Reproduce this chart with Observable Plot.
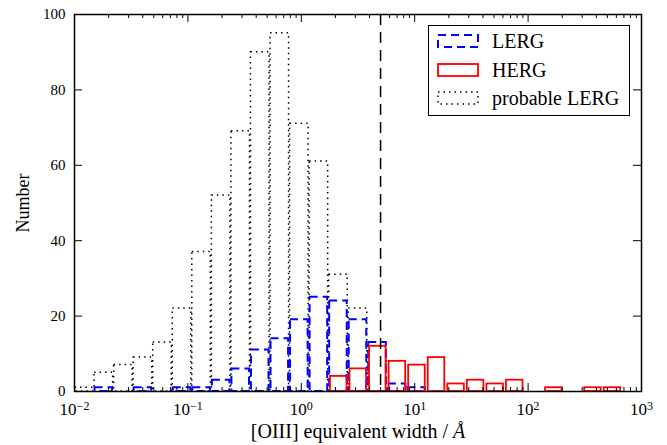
<!DOCTYPE html>
<html>
<head>
<meta charset="utf-8">
<script src="https://cdn.jsdelivr.net/npm/d3@7"></script>
<script src="https://cdn.jsdelivr.net/npm/@observablehq/plot@0.6"></script>
<style>
  html, body { margin: 0; padding: 0; background: #fff; }
  #wrap { position: relative; width: 667px; height: 445px; font-family: "Liberation Serif", "Times New Roman", serif; }
  #chart svg, #chart svg text { font-family: "Liberation Serif", "Times New Roman", serif !important; }
  #legend { position: absolute; left: 428px; top: 25px; width: 200px; height: 89px; border: 1.5px solid #000; background: #fff; }
  .row { position: absolute; left: 0; height: 20px; display: flex; align-items: center; }
  .row svg { margin-left: 8px; }
  .row span { margin-left: 13px; font-size: 20px; color: #000; line-height: 20px; font-family: "Liberation Serif", serif; }
</style>
</head>
<body>
<div id="wrap">
  <div id="chart"></div>
  <div id="legend"></div>
</div>
<script>
// Histogram bins: 29 bins evenly spaced in log10 from -2 to 3
const logMin = -2, logMax = 3, nBins = 29;
// Counts per bin
const probableLERG = [1, 5, 7, 9, 13, 22, 37, 52, 69, 90, 95, 71, 61, 31, 22, 12, 0, 0, 0, 0, 0, 0, 0, 0, 0, 0, 0, 0, 0];
const LERG         = [0, 1, 0, 1, 0, 1, 1, 3, 6, 11, 14, 19, 25, 24, 19, 13, 2, 1, 0, 0, 0, 0, 0, 0, 0, 0, 0, 0, 0];
const HERG         = [0, 0, 0, 0, 0, 0, 0, 0, 0, 0, 0, 0, 0, 4, 6, 12, 8, 7, 9, 2, 3, 2, 3, 0, 1, 0, 1, 1, 0];
const seriesNames = ["LERG", "HERG", "probable LERG"];
const dividerWidth = 5; // vertical dashed line at 5 Å
const xMajorTicks = [0.01, 0.1, 1, 10, 100, 1000];
const xTickBase = "10";
const xTickExponents = ["\u22122", "\u22121", "0", "1", "2", "3"];
const minorMultipliers = [2, 3, 4, 5, 6, 7, 8, 9];
const yTicks = [0, 20, 40, 60, 80, 100];
const xLabel = "[OIII] equivalent width / Å";
const yLabel = "Number";

const W = 667, H = 445, mL = 74, mR = 26, mT = 14, mB = 54;
const innerW = W - mL - mR, innerH = H - mT - mB;
const serif = "'Liberation Serif', 'Times New Roman', serif";

const edges = d3.range(nBins + 1).map(i => Math.pow(10, logMin + i * (logMax - logMin) / nBins));
const toBins = counts => counts.map((n, i) => ({x1: edges[i], x2: edges[i + 1], n})).filter(d => d.n > 0);
const minorTicks = xMajorTicks.slice(0, -1).flatMap(t => minorMultipliers.map(m => t * m));

const chart = Plot.plot({
  width: W, height: H,
  marginLeft: mL, marginRight: mR, marginTop: mT, marginBottom: mB,
  style: "font-family: 'Liberation Serif', 'Times New Roman', serif; font-size: 15px; background: #fff; color: #000;",
  x: {type: "log", domain: [0.01, 1000]},
  y: {domain: [0, 100]},
  marks: [
    Plot.rect(toBins(probableLERG), {x1: "x1", x2: "x2", y1: 0, y2: "n", fill: "none", stroke: "#000", strokeWidth: 1.5, strokeDasharray: "1.5,4", insetLeft: 0.5, insetRight: 0.5}),
    Plot.rect(toBins(LERG), {x1: "x1", x2: "x2", y1: 0, y2: "n", fill: "none", stroke: "#0000ff", strokeWidth: 2, strokeDasharray: "8,5", insetLeft: 1, insetRight: 1}),
    Plot.rect(toBins(HERG), {x1: "x1", x2: "x2", y1: 0, y2: "n", fill: "none", stroke: "#ff0000", strokeWidth: 1.8, insetLeft: 1.8, insetRight: 1.2}),
    Plot.ruleX([dividerWidth], {stroke: "#000", strokeWidth: 1.5, strokeDasharray: "11,7"}),
    // inward ticks
    Plot.tickX(xMajorTicks, {x: d => d, stroke: "#000", insetTop: innerH - 8}),
    Plot.tickX(xMajorTicks, {x: d => d, stroke: "#000", insetBottom: innerH - 8}),
    Plot.tickX(minorTicks, {x: d => d, stroke: "#000", insetTop: innerH - 4}),
    Plot.tickX(minorTicks, {x: d => d, stroke: "#000", insetBottom: innerH - 4}),
    Plot.tickY(yTicks, {y: d => d, stroke: "#000", insetRight: innerW - 8}),
    Plot.tickY(yTicks, {y: d => d, stroke: "#000", insetLeft: innerW - 8}),
    Plot.axisX({ticks: xMajorTicks, tickSize: 0, tickPadding: 11,
      tickFormat: d => xTickBase + "^" + xTickExponents[xMajorTicks.indexOf(d)],
      label: xLabel, labelAnchor: "center", labelArrow: "none", labelOffset: 46}),
    Plot.axisY({ticks: yTicks, tickSize: 0, tickPadding: 9,
      label: yLabel, labelAnchor: "center", labelArrow: "none", labelOffset: 58}),
    Plot.frame({stroke: "#000", strokeWidth: 1.5})
  ]
});
chart.setAttribute("font-family", serif);
chart.setAttribute("font-size", "15");
document.getElementById("chart").appendChild(chart);

const svg = d3.select(chart);
// x tick labels: base with raised exponent
svg.selectAll("g[aria-label='x-axis tick label']").attr("font-size", 17).style("font-size", "17px");
svg.selectAll("g[aria-label='x-axis tick label'] text").each(function() {
  const t = this.textContent;
  const k = t.indexOf("^");
  const sel = d3.select(this).attr("font-size", 17).style("font-size", "17px");
  if (k >= 0) {
    sel.text(null);
    sel.append("tspan").text(t.slice(0, k));
    sel.append("tspan").attr("dy", "-0.42em").attr("font-size", 12).style("font-size", "12px").text(t.slice(k + 1));
  }
});
// axis labels: larger font, italic Å
svg.selectAll("[aria-label='y-axis label'] text").attr("font-size", 18).style("font-size", "18px");
svg.selectAll("[aria-label='x-axis label'] text").attr("font-size", 20).style("font-size", "20px");
svg.selectAll("[aria-label='x-axis label'] text").each(function() {
  const t = this.textContent;
  const idx = t.indexOf("Å");
  if (idx >= 0) {
    const sel = d3.select(this);
    sel.text(null);
    sel.append("tspan").text(t.slice(0, idx));
    sel.append("tspan").style("font-style", "italic").text("Å");
  }
});

// Legend
const legend = d3.select("#legend");
const styles = [
  {stroke: "#0000ff", dash: "8,5", width: 2},
  {stroke: "#ff0000", dash: null, width: 1.8},
  {stroke: "#000", dash: "1.5,4", width: 1.5}
];
seriesNames.forEach((name, i) => {
  const row = legend.append("div").attr("class", "row").style("top", (5 + i * 28.5) + "px");
  const s = row.append("svg").attr("width", 42).attr("height", 14);
  s.append("rect").attr("x", 1).attr("y", 1).attr("width", 40).attr("height", 12)
    .attr("fill", "none").attr("stroke", styles[i].stroke).attr("stroke-width", styles[i].width)
    .attr("stroke-dasharray", styles[i].dash);
  row.append("span").text(name);
});
</script>
</body>
</html>
